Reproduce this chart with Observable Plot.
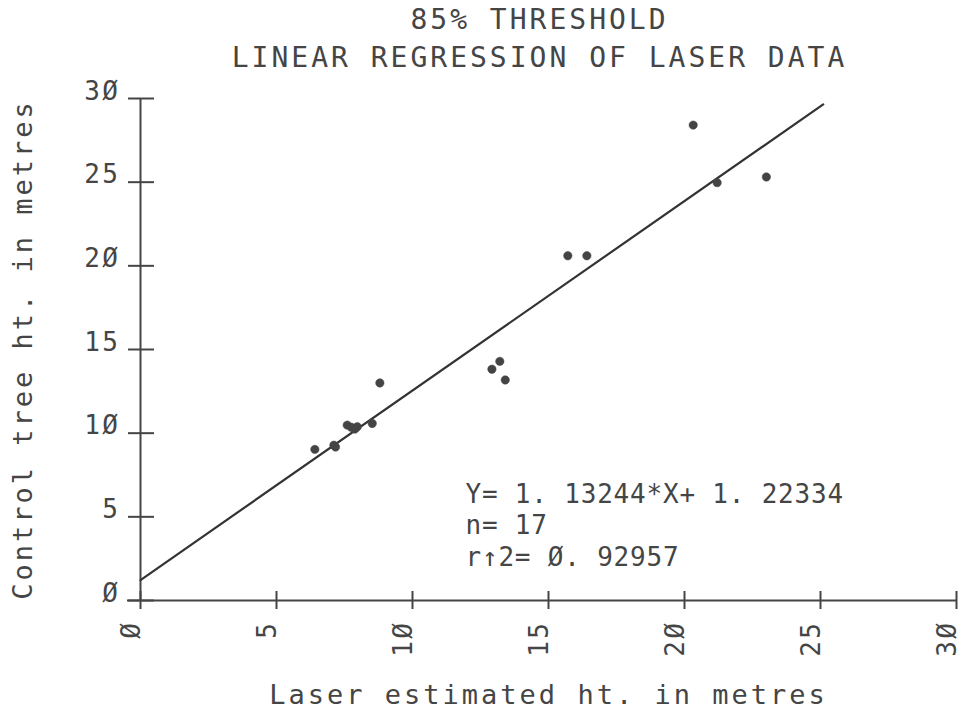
<!DOCTYPE html>
<html>
<head>
<meta charset="utf-8">
<script src="https://cdn.jsdelivr.net/npm/d3@7"></script>
<script src="https://cdn.jsdelivr.net/npm/@observablehq/plot@0.6"></script>
<style>
  html, body { margin: 0; padding: 0; background: #fff; }
  #chart svg { display: block; }
</style>
</head>
<body>
<div id="chart"></div>
<script>
// ---- data ----
const titleLines = ["85% THRESHOLD", "LINEAR REGRESSION OF LASER DATA"];
const xLabel = "Laser estimated ht. in metres";
const yLabel = "Control tree ht. in metres";
const xTicks = [0, 5, 10, 15, 20, 25, 30];
const yTicks = [0, 5, 10, 15, 20, 25, 30];
const laserHt   = [6.41, 7.11, 7.17, 7.60, 7.75, 7.88, 7.97, 8.52, 8.80, 12.92, 13.21, 13.41, 15.71, 16.41, 20.32, 21.20, 23.01];
const controlHt = [9.03, 9.28, 9.17, 10.48, 10.35, 10.24, 10.38, 10.58, 13.00, 13.82, 14.29, 13.18, 20.60, 20.60, 28.41, 24.97, 25.31];
const slope = 1.13244;
const intercept = 1.22334;
const fitRange = [0, 25.1];
const annotation = ["Y= 1. 13244*X+ 1. 22334", "n= 17", "r\u21912= \u00D8. 92957"];

const points = laserHt.map((x, i) => ({x, y: controlHt[i]}));
const fitLine = fitRange.map(x => ({x, y: slope * x + intercept}));
const zeroFmt = d => String(d).replace(/0/g, "\u00D8");

const ink = "#454545";
const font = "'DejaVu Sans Mono', 'Liberation Mono', monospace";

const chart = Plot.plot({
  width: 960,
  height: 710,
  marginLeft: 140,
  marginRight: 4,
  marginTop: 98,
  marginBottom: 110,
  x: {domain: [0, 30], axis: null},
  y: {domain: [0, 30], axis: null},
  style: {fontFamily: font, color: ink, background: "#fff", overflow: "visible"},
  marks: [
    // axis lines
    Plot.ruleY([0], {stroke: ink, strokeWidth: 2, insetLeft: -13}),
    Plot.ruleX([0], {stroke: ink, strokeWidth: 2}),
    // ticks crossing the axes
    Plot.ruleX(xTicks, {x: d => d, y1: 0, y2: 0, insetTop: -9, insetBottom: -9, stroke: ink, strokeWidth: 2}),
    Plot.ruleY(yTicks, {y: d => d, x1: 0, x2: 0, insetLeft: -12, insetRight: -14, stroke: ink, strokeWidth: 2}),
    // tick labels
    Plot.text(yTicks, {x: 0, y: d => d, text: zeroFmt, textAnchor: "end", lineAnchor: "bottom",
      dx: -20, dy: 1, fontSize: 26, fill: ink}),
    Plot.text(xTicks, {x: d => d, y: 0, text: zeroFmt, rotate: -90, textAnchor: "end", lineAnchor: "bottom",
      dx: -1, dy: 20, fontSize: 26, fill: ink}),
    // regression line
    Plot.line(fitLine, {x: "x", y: "y", stroke: "#333", strokeWidth: 2.2}),
    // data points
    Plot.dot(points, {x: "x", y: "y", r: 4.2, fill: "#444", stroke: "#444", strokeWidth: 0.5}),
    // annotation
    Plot.text([annotation.join("\n")], {frameAnchor: "bottom-left", textAnchor: "start", lineAnchor: "bottom",
      dx: 325, dy: -35, lineHeight: 1.21, fontSize: 26, fill: ink}),
    // titles
    Plot.text([titleLines[0]], {frameAnchor: "top", dx: -9, dy: -70, lineAnchor: "bottom", fontSize: 28, fill: ink}),
    Plot.text([titleLines[1]], {frameAnchor: "top", dx: -9, dy: -32, lineAnchor: "bottom", fontSize: 28, fill: ink}),
    // axis labels
    Plot.text([xLabel], {frameAnchor: "bottom", dy: 103, lineAnchor: "bottom", fontSize: 27, fill: ink}),
    Plot.text([yLabel], {frameAnchor: "left", dx: -117, rotate: -90, textAnchor: "middle", lineAnchor: "middle", fontSize: 27, fill: ink})
  ]
});

// letter spacing to mimic the wide plotter lettering
d3.select(chart).selectAll("g[aria-label=text]").each(function () {
  const fs = parseFloat(this.getAttribute("font-size") || 0);
  const ls = fs >= 27 ? "3px" : (this.querySelector("text") && this.querySelector("text").textContent.startsWith("Y=")) ? "0.8px" : "2.5px";
  d3.select(this).selectAll("text").style("letter-spacing", ls);
});

document.getElementById("chart").appendChild(chart);
</script>
</body>
</html>
